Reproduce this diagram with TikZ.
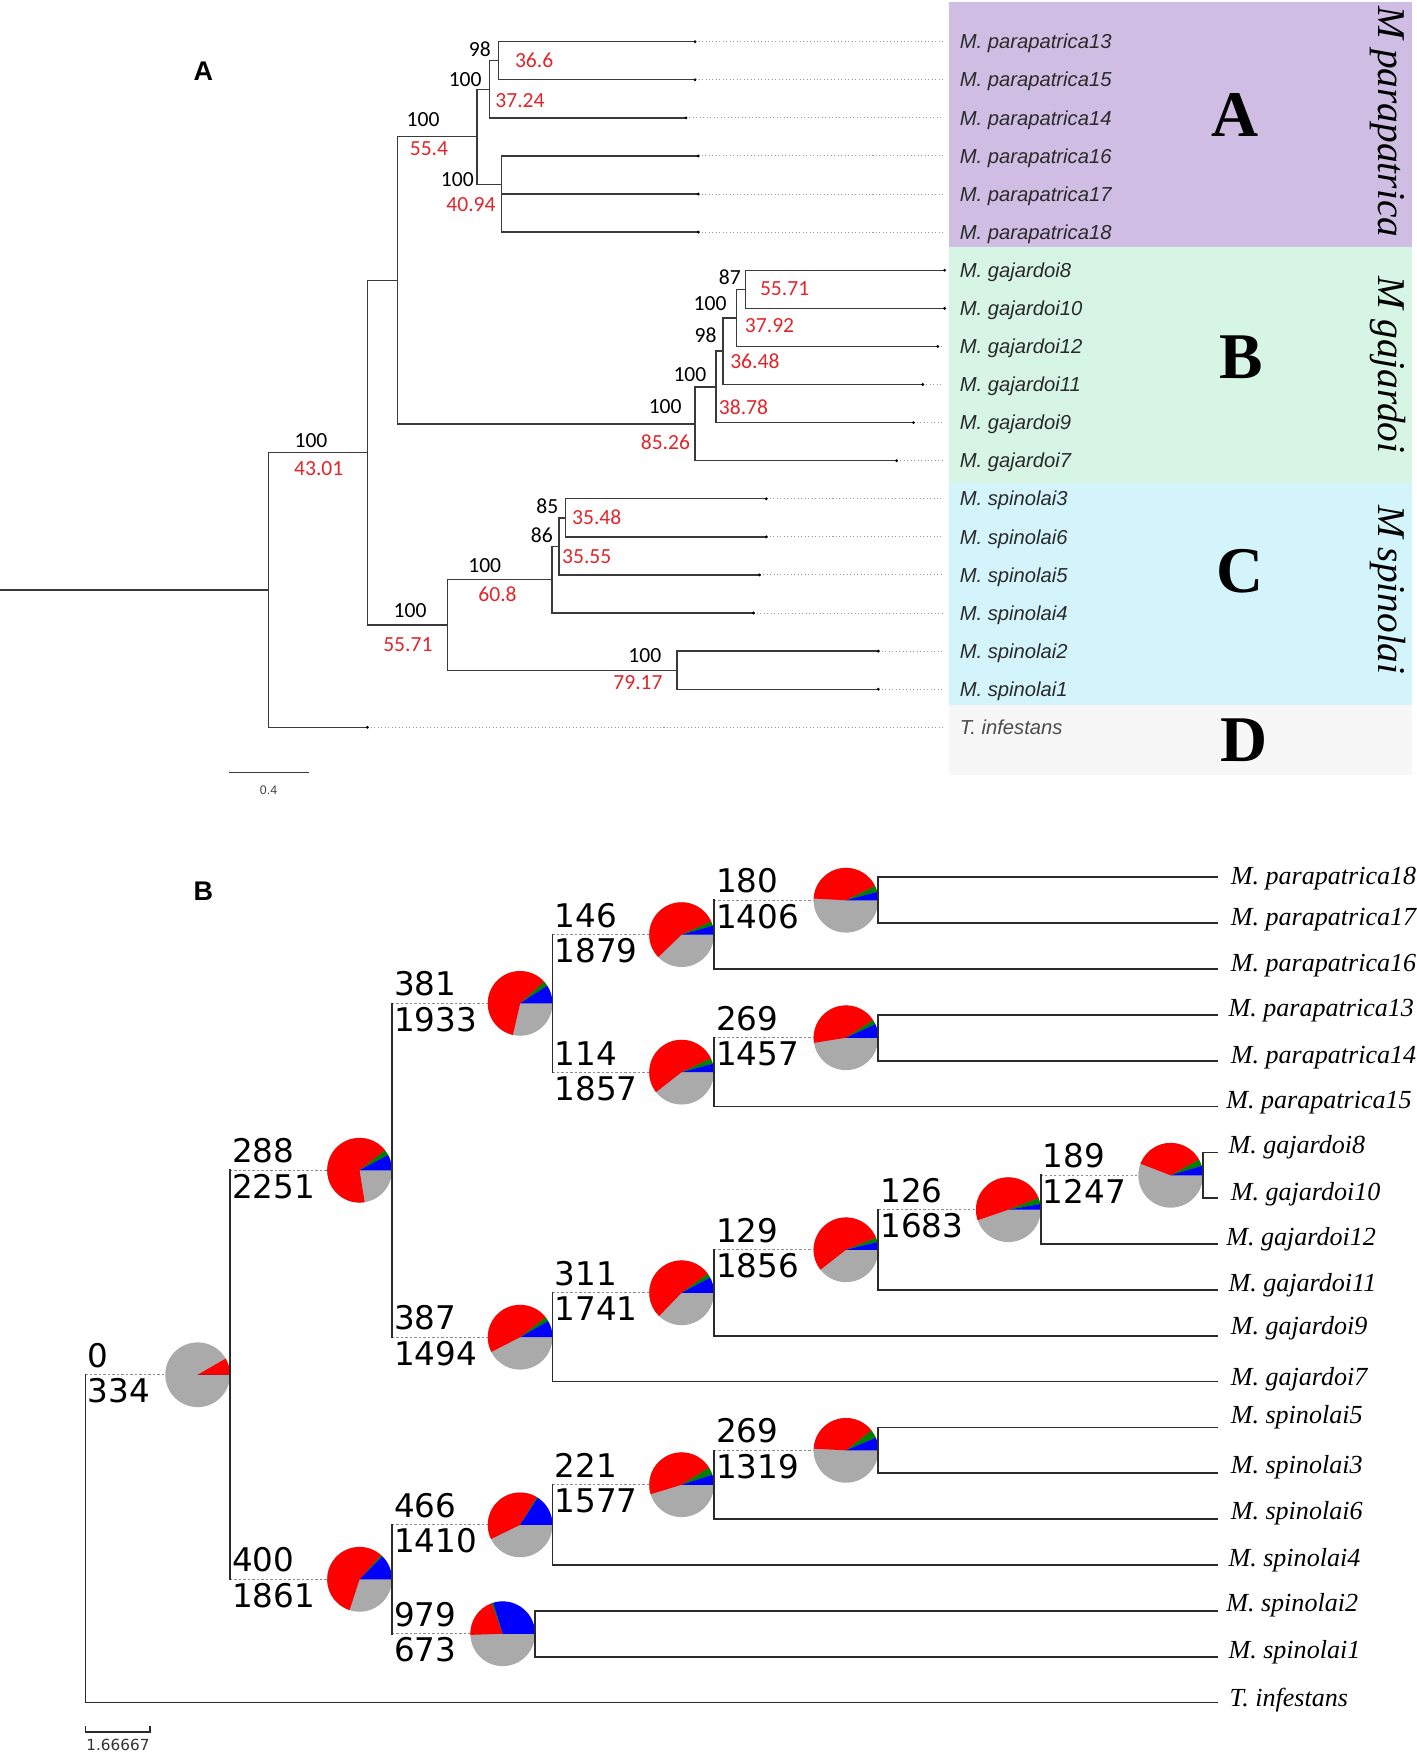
\documentclass[tikz,border=0pt]{standalone}
\usepackage{fontspec}
\setmainfont{Liberation Serif}
\newfontfamily\lsans{Liberation Sans}
\newfontfamily\carl{Carlito}
\newfontfamily\dejav{DejaVu Sans}
\usetikzlibrary{calc}
\definecolor{boxP}{HTML}{CFBDE3}
\definecolor{boxG}{HTML}{D6F5E4}
\definecolor{boxC}{HTML}{D4F4FC}
\definecolor{boxD}{HTML}{F7F7F7}
\definecolor{nred}{HTML}{E0262B}
\definecolor{pred}{HTML}{FF0000}
\definecolor{pgreen}{HTML}{008000}
\definecolor{pblue}{HTML}{0000FF}
\definecolor{pgray}{HTML}{AAAAAA}
\definecolor{lineA}{HTML}{3A3A3A}
\definecolor{lineB}{HTML}{2B2B2B}
\definecolor{leafA}{HTML}{2A2A2A}
\tikzset{
  aline/.style={line width=0.6pt,draw=lineA,line cap=rect},
  adot/.style={line width=0.45pt,draw=black!40,dash pattern=on 0.45pt off 1.1pt},
  bline/.style={line width=0.75pt,draw=lineB,line cap=rect},
  bdot/.style={line width=0.5pt,draw=black!45,dash pattern=on 1pt off 1pt},
  aleaf/.style={font=\lsans\itshape\fontsize{9}{10}\selectfont,text=leafA,inner sep=0pt},
  anum/.style={font=\carl\fontsize{9.6}{11}\selectfont,inner sep=0pt,text=black},
  ared/.style={anum,text=nred},
  bnum/.style={font=\dejav\fontsize{14.5}{16}\selectfont,inner sep=0pt,text=black},
  bleaf/.style={font=\itshape\fontsize{11.6}{13}\selectfont,inner sep=0pt,text=black},
  biglet/.style={font=\bfseries\fontsize{29}{31}\selectfont,inner sep=0pt},
  cladename/.style={font=\itshape\fontsize{17.5}{19}\selectfont,inner sep=0pt,rotate=-90},
  panellab/.style={font=\lsans\bfseries\fontsize{12}{14}\selectfont,inner sep=0pt}
}
\newcommand{\drawpie}[5]{%
  \begin{scope}[shift={({#1},{#2})},x=1pt,y=1pt]
    \fill[pgray] (0,0) circle (14.4);
    \fill[pred] (0,0) -- (#4:14.4) arc[start angle=#4,end angle=#5,radius=14.4] -- cycle;
    \fill[pgreen] (0,0) -- (#3:14.4) arc[start angle=#3,end angle=#4,radius=14.4] -- cycle;
    \fill[pblue] (0,0) -- (0:14.4) arc[start angle=0,end angle=#3,radius=14.4] -- cycle;
  \end{scope}}
% panel B internal node: name, Xparent, X, y, blue, green, red, top, bottom
\newcommand{\Bint}[9]{%
  \coordinate (#1) at (#3,#4);
  \coordinate (#1-in) at (#2,#4);
  \coordinate (#1-pl) at ({#3-57.6},#4);
  \coordinate (#1-pc) at ({#3-28.8},#4);
  \draw[bdot] (#1-in) -- (#1-pl);
  \drawpie{#3-28.8}{#4}{#5}{#6}{#7}
  \node[bnum,anchor=south west] (#1-t) at ({#2+1.5},{#4-5.9}) {#8};
  \node[bnum,anchor=north west] (#1-b) at ({#2+1.5},{#4+3}) {#9};}
% panel B leaf: name, Xparent, y, label x, label baseline, text
\newcommand{\Bleaf}[6]{%
  \coordinate (#1-in) at (#2,#3);
  \coordinate (#1) at (1083,#3);
  \draw[bline] (#1-in) -- (#1);
  \node[bleaf,anchor=base west] (#1-l) at (#4,#5) {#6};}
% panel A internal: name, Xparent, X, y
\newcommand{\Aint}[4]{%
  \coordinate (#1-in) at (#2,#4);
  \coordinate (#1) at (#3,#4);
  \draw[aline] (#1-in) -- (#1);}
% panel A leaf: name, Xparent, y, tip, label
\newcommand{\Aleaf}[5]{%
  \coordinate (#1-in) at (#2,#3);
  \coordinate (#1) at (#4,#3);
  \coordinate (#1-e) at (839,#3);
  \draw[adot] (#1) -- (#1-e);
  \draw[aline] (#1-in) -- (#1);
  \fill[black] (#1) circle (1.4);
  \node[aleaf,anchor=base west] (#1-l) at (853.8,{#3+6.4}) {#5};}
\begin{document}
\begin{tikzpicture}[x=0.5pt,y=-0.5pt]
\useasboundingbox (0,0) rectangle (1261.1,1564.6);
% ---------- panel A backgrounds
\fill[boxP] (845,1.5) rectangle (1257,219.6);
\fill[boxG] (845,219.6) rectangle (1257,430.2);
\fill[boxC] (845,430.2) rectangle (1257,627.5);
\fill[boxD] (845,627.5) rectangle (1257,690);
\node[panellab] (labA) at (181,63.8) {A};
% ---------- panel A tree
\coordinate (aR-s) at (0,525.1);
\coordinate (aR) at (239,525.1);
\draw[aline] (aR-s) -- (aR);
\Aint{aI}{239}{327}{402.85}
\Aint{aPG}{327}{354}{249.5}
\Aint{aS}{327}{398}{556.2}
\Aint{aP}{354}{424.5}{121.75}
\Aint{aG}{354}{618.6}{377.2}
\Aint{aP1}{424.5}{435.5}{79.5}
\Aint{aP2}{424.5}{446.5}{164}
\Aint{aP11}{435.5}{443.6}{54.05}
\Aint{aG9}{618.6}{637.2}{344.3}
\Aint{aG11}{637.2}{643.4}{312.5}
\Aint{aG12}{643.4}{655.6}{282.9}
\Aint{aG8}{655.6}{663.7}{257.45}
\Aint{aS4}{398}{491.3}{515.95}
\Aint{aS5}{491.3}{497.4}{486.3}
\Aint{aS3}{497.4}{503.5}{460.85}
\Aint{aS12}{398}{602.4}{596.45}
\Aleaf{ap13}{443.6}{37.1}{618.6}{M. parapatrica13}
\Aleaf{ap15}{443.6}{71}{618.6}{M. parapatrica15}
\Aleaf{ap14}{435.5}{104.9}{610.5}{M. parapatrica14}
\Aleaf{ap16}{446.5}{138.8}{621.5}{M. parapatrica16}
\Aleaf{ap17}{446.5}{172.7}{621.5}{M. parapatrica17}
\Aleaf{ap18}{446.5}{206.6}{621.5}{M. parapatrica18}
\Aleaf{ag8}{663.7}{240.5}{840.7}{M. gajardoi8}
\Aleaf{ag10}{663.7}{274.4}{840.7}{M. gajardoi10}
\Aleaf{ag12}{655.6}{308.3}{834.6}{M. gajardoi12}
\Aleaf{ag11}{643.4}{342.2}{821.2}{M. gajardoi11}
\Aleaf{ag9}{637.2}{376.1}{813}{M. gajardoi9}
\Aleaf{ag7}{618.6}{410}{798}{M. gajardoi7}
\Aleaf{as3}{503.5}{443.9}{682}{M. spinolai3}
\Aleaf{as6}{503.5}{477.8}{682}{M. spinolai6}
\Aleaf{as5}{497.4}{511.7}{676}{M. spinolai5}
\Aleaf{as4}{491.3}{545.6}{670.6}{M. spinolai4}
\Aleaf{as2}{602.4}{579.5}{781.7}{M. spinolai2}
\Aleaf{as1}{602.4}{613.4}{781.7}{M. spinolai1}
\Aleaf{aT}{239}{647.3}{327}{\textcolor{black!70}{T. infestans}}
\draw[aline] (aI-in) -- (aT-in);
\draw[aline] (aPG-in) -- (aS-in);
\draw[aline] (aP-in) -- (aG-in);
\draw[aline] (aP1-in) -- (aP2-in);
\draw[aline] (aP11-in) -- (ap14-in);
\draw[aline] (ap13-in) -- (ap15-in);
\draw[aline] (ap16-in) -- (ap18-in);
\draw[aline] (aG9-in) -- (ag7-in);
\draw[aline] (aG11-in) -- (ag9-in);
\draw[aline] (aG12-in) -- (ag11-in);
\draw[aline] (aG8-in) -- (ag12-in);
\draw[aline] (ag8-in) -- (ag10-in);
\draw[aline] (aS4-in) -- (aS12-in);
\draw[aline] (aS5-in) -- (as4-in);
\draw[aline] (aS3-in) -- (as5-in);
\draw[aline] (as3-in) -- (as6-in);
\draw[aline] (as2-in) -- (as1-in);
% panel A support labels
\node[anum] (nA1) at (276.8,392.5) {100};  \node[ared] (rA1) at (283.7,416.8) {43.01};
\node[anum] (nA2) at (365,543) {100};      \node[ared] (rA2) at (363,573.5) {55.71};
\node[anum] (nA3) at (376.5,106) {100};    \node[ared] (rA3) at (381.8,132.6) {55.4};
\node[anum] (nA4) at (414,70.6) {100};     \node[ared] (rA4) at (462.8,89.6) {37.24};
\node[anum] (nA5) at (427,43.9) {98};      \node[ared] (rA5) at (475.4,53.4) {36.6};
\node[anum] (nA6) at (407,160.2) {100};    \node[ared] (rA6) at (419.2,182.5) {40.94};
\node[anum] (nA7) at (649.5,246.3) {87};   \node[ared] (rA7) at (698.3,256.7) {55.71};
\node[anum] (nA8) at (632,270) {100};      \node[ared] (rA8) at (684.9,290.2) {37.92};
\node[anum] (nA9) at (628,298) {98};       \node[ared] (rA9) at (671.8,321.4) {36.48};
\node[anum] (nA10) at (614,333) {100};     \node[ared] (rA10) at (661.7,362.6) {38.78};
\node[anum] (nA11) at (592,362) {100};     \node[ared] (rA11) at (592.2,393.4) {85.26};
\node[anum] (nA12) at (487.2,450.4) {85};  \node[ared] (rA12) at (531.1,459.9) {35.48};
\node[anum] (nA13) at (482.3,476.2) {86};  \node[ared] (rA13) at (522.2,494.9) {35.55};
\node[anum] (nA14) at (431.4,503.5) {100}; \node[ared] (rA14) at (442.8,528.7) {60.8};
\node[anum] (nA15) at (573.9,583.3) {100}; \node[ared] (rA15) at (567.8,607.6) {79.17};
% big letters and clade names
\node[biglet] (LA) at (1099,102) {A};
\node[biglet] (LB) at (1105,318) {B};
\node[biglet] (LC) at (1104,508.8) {C};
\node[biglet] (LD) at (1107,659) {D};
\node[cladename,anchor=base] (cP) at (1227,108.5) {M parapatrica};
\node[cladename,anchor=base] (cG) at (1227,325) {M gajardoi};
\node[cladename,anchor=base] (cS) at (1227,525) {M spinolai};
% scale bar A
\coordinate (sbA1) at (203.5,687.7);
\coordinate (sbA2) at (274.7,687.7);
\draw[line width=0.6pt,draw=lineA] (sbA1) -- (sbA2);
\node[font=\lsans\fontsize{5.5}{6}\selectfont,text=black!75,inner sep=0pt] (sbAl) at (239,703) {0.4};
% ---------- panel B
\node[panellab] (labB) at (181,793.6) {B};
\Bleaf{bp18}{781.7}{780.8}{1095}{787.6}{M. parapatrica18}
\Bleaf{bp17}{781.7}{821.6}{1095}{823.3}{M. parapatrica17}
\Bleaf{bp16}{635.4}{862.4}{1095}{864.8}{M. parapatrica16}
\Bleaf{bp13}{781.7}{903.2}{1093}{904.9}{M. parapatrica13}
\Bleaf{bp14}{781.7}{944}{1095}{946.4}{M. parapatrica14}
\Bleaf{bp15}{635.4}{984.8}{1091}{986.5}{M. parapatrica15}
\Bleaf{bg8}{1070.7}{1025.6}{1093}{1026.5}{M. gajardoi8}
\Bleaf{bg10}{1070.7}{1066.4}{1095}{1068.1}{M. gajardoi10}
\Bleaf{bg12}{926.2}{1107.2}{1091}{1108.1}{M. gajardoi12}
\Bleaf{bg11}{781.7}{1148}{1093}{1149.6}{M. gajardoi11}
\Bleaf{bg9}{635.4}{1188.8}{1095}{1187.3}{M. gajardoi9}
\Bleaf{bg7}{491.7}{1229.6}{1095}{1232.7}{M. gajardoi7}
\Bleaf{bs5}{781.7}{1270.4}{1095}{1266.8}{M. spinolai5}
\Bleaf{bs3}{781.7}{1311.2}{1095}{1311.3}{M. spinolai3}
\Bleaf{bs6}{635.4}{1352}{1095}{1351.9}{M. spinolai6}
\Bleaf{bs4}{491.7}{1392.8}{1093}{1394.4}{M. spinolai4}
\Bleaf{bs2}{476.2}{1433.6}{1091}{1434.4}{M. spinolai2}
\Bleaf{bs1}{476.2}{1474.4}{1093}{1476}{M. spinolai1}
\Bleaf{bT}{76.1}{1515.2}{1094}{1519}{T. infestans}
% internal nodes B
\Bint{bing}{76.1}{204.7}{1223.5}{0}{0}{30}{0}{334}
\Bint{b288}{204.7}{348.8}{1041.5}{28}{38}{279}{288}{2251}
\Bint{b400}{204.7}{348.8}{1405.55}{45}{48}{252}{400}{1861}
\Bint{b381}{348.8}{491.7}{893}{33}{42}{257}{381}{1933}
\Bint{b387}{348.8}{491.7}{1190.1}{30}{38}{207}{387}{1494}
\Bint{b466}{348.8}{491.7}{1357.1}{57}{59}{206}{466}{1410}
\Bint{b979}{348.8}{476.2}{1454}{107}{110}{182}{979}{673}
\Bint{b146}{491.7}{635.4}{831.8}{16}{24}{224}{146}{1879}
\Bint{b114}{491.7}{635.4}{954.2}{15}{25}{218}{114}{1857}
\Bint{b311}{491.7}{635.4}{1150.55}{28}{36}{226}{311}{1741}
\Bint{b221}{491.7}{635.4}{1321.4}{18}{32}{197}{221}{1577}
\Bint{b180}{635.4}{781.7}{801.2}{15}{26}{177}{180}{1406}
\Bint{b269a}{635.4}{781.7}{923.6}{25}{33}{189}{269}{1457}
\Bint{b129}{635.4}{781.7}{1112.3}{14}{22}{218}{129}{1856}
\Bint{b269b}{635.4}{781.7}{1290.8}{23}{38}{177}{269}{1319}
\Bint{b126}{781.7}{926.2}{1076.6}{10}{21}{199}{126}{1683}
\Bint{b189}{926.2}{1070.7}{1046}{17}{29}{159}{189}{1247}
% verticals B
\draw[bline] (bp18-in) -- (bp17-in);
\draw[bline] (b180-in) -- (bp16-in);
\draw[bline] (bp13-in) -- (bp14-in);
\draw[bline] (b269a-in) -- (bp15-in);
\draw[bline] (b146-in) -- (b114-in);
\draw[bline] (bg8-in) -- (bg10-in);
\draw[bline] (b189-in) -- (bg12-in);
\draw[bline] (b126-in) -- (bg11-in);
\draw[bline] (b129-in) -- (bg9-in);
\draw[bline] (b311-in) -- (bg7-in);
\draw[bline] (b381-in) -- (b387-in);
\draw[bline] (bs5-in) -- (bs3-in);
\draw[bline] (b269b-in) -- (bs6-in);
\draw[bline] (b221-in) -- (bs4-in);
\draw[bline] (bs2-in) -- (bs1-in);
\draw[bline] (b466-in) -- (b979-in);
\draw[bline] (b288-in) -- (b400-in);
\draw[bline] (bing-in) -- (bT-in);
% scale bar B
\coordinate (sbB1) at (76.1,1541.3);
\coordinate (sbB2) at (133.5,1541.3);
\coordinate (sbB1t) at (76.1,1535.8);
\coordinate (sbB2t) at (133.5,1535.8);
\draw[line width=0.6pt,draw=lineB] (sbB1t) -- (sbB1) -- (sbB2) -- (sbB2t);
\node[font=\dejav\fontsize{6.8}{8}\selectfont,text=black!80,inner sep=0pt] (sbBl) at (105,1553) {1.66667};
\end{tikzpicture}
\end{document}
